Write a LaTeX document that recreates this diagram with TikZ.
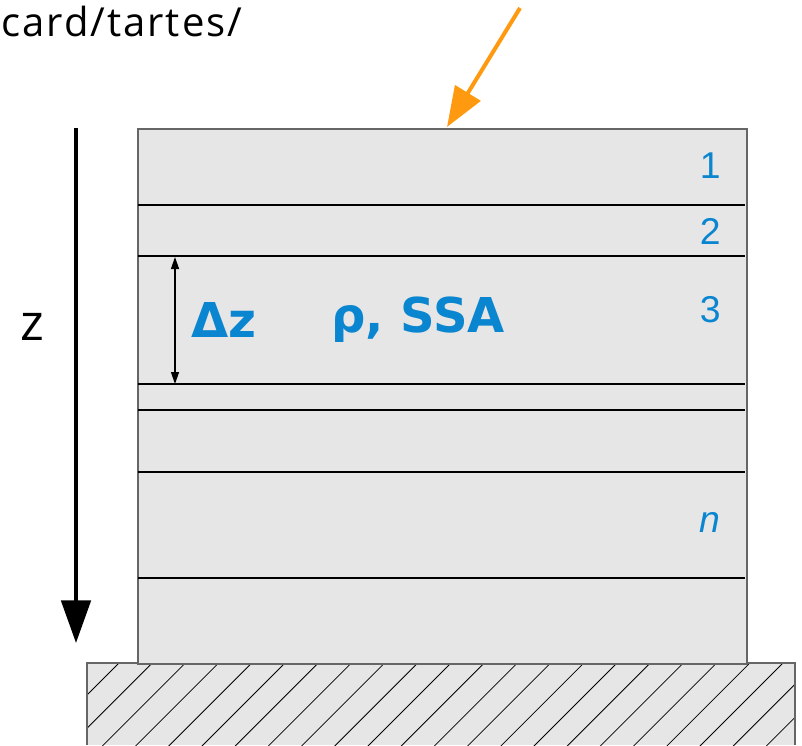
\documentclass[tikz,border=0pt]{standalone}
\usepackage{fontspec}
\setmainfont{Liberation Sans}
\newfontfamily\opensans{Open Sans}
\newfontfamily\opensanswide[LetterSpace=5]{Open Sans}
\newfontfamily\dvbold{DejaVu Sans}
\usetikzlibrary{arrows.meta}
\definecolor{layerfill}{HTML}{E6E6E6}
\definecolor{boxgray}{HTML}{666666}
\definecolor{labelblue}{HTML}{0A85D0}
\definecolor{sunorange}{HTML}{FF9A10}
\begin{document}
\begin{tikzpicture}[x=0.75pt,y=-0.75pt,
  layerline/.style={black,line width=0.8pt},
  numlabel/.style={text=labelblue,font=\fontsize{28}{30}\selectfont,inner sep=0pt,anchor=east},
  boldlabel/.style={text=labelblue,font=\dvbold\bfseries\fontsize{36}{40}\selectfont,inner sep=0pt},
  hatchline/.style={black,line width=0.6pt}]
\useasboundingbox (0,0) rectangle (802,745);
% ground
\fill[layerfill] (87,663) rectangle (795,745);
\begin{scope}
\clip (87,663) rectangle (795,745);
\foreach \i in {0,...,24} {
  \draw[hatchline] ({119+33.2*(\i-1)},663) -- ++(-90,90);
}
\end{scope}
\draw[boxgray,line width=1.2pt] (87,745) -- (87,663) -- (795,663) -- (795,745);
% stack
\node[fill=layerfill,draw=boxgray,line width=1.2pt,minimum width=609*0.75pt,minimum height=535*0.75pt,inner sep=0pt,anchor=north west] (stack) at (137,128) {};
\foreach \y in {205,256,384,410,472,578} {
  \draw[layerline] (137.8,\y) -- (745.2,\y);
}
% labels
\node[numlabel] (l1) at (721,166) {1};
\node[numlabel] (l2) at (721,231) {2};
\node[numlabel] (l3) at (721,310) {3};
\node[numlabel,font=\itshape\fontsize{28}{30}\selectfont] (ln) at (721,522) {n};
\node[boldlabel,anchor=west] (dz) at (191,320) {Δz};
\node[boldlabel,anchor=west] (rho) at (331,320) {ρ, SSA};
% dz arrow
\coordinate (dzt) at (175,257);
\coordinate (dzb) at (175,384);
\draw[black,line width=1pt,{Triangle[length=9pt,width=6pt]}-{Triangle[length=9pt,width=6pt]}] (dzt) -- (dzb);
% z axis
\coordinate (zt) at (76,128);
\coordinate (zb) at (76,643);
\draw[black,line width=3pt,-{Triangle[length=32pt,width=22pt]}] (zt) -- (zb);
\node[font=\opensans\fontsize{38}{40}\selectfont,inner sep=0pt,anchor=base] (zl) at (32,340) {z};
% sun arrow
\coordinate (st) at (520,8);
\coordinate (sb) at (447,127);
\draw[sunorange,line width=3pt,-{Triangle[length=30pt,width=22pt]}] (st) -- (sb);
% title
\node[font=\opensanswide\fontsize{30}{34}\selectfont,inner sep=0pt,anchor=base west] (title) at (1,37) {card/tartes/};
\end{tikzpicture}
\end{document}
